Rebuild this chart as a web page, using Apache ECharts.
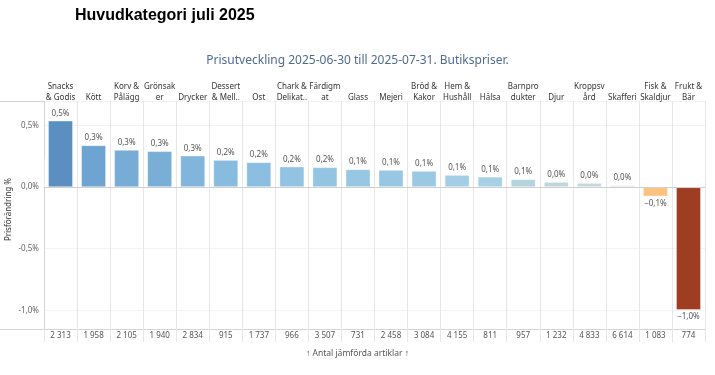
<!DOCTYPE html>
<html><head><meta charset="utf-8">
<script src="https://cdn.jsdelivr.net/npm/echarts@6/dist/echarts.min.js"></script>
<style>html,body{margin:0;padding:0;background:#fff}#c{width:715px;height:375px}</style>
</head><body><div id="c"></div>
<script>
const categories = ['Snacks\n& Godis','Kött','Korv &\nPålägg','Grönsak\ner','Drycker','Dessert\n& Mell..','Ost','Chark &\nDelikat..','Färdigm\nat','Glass','Mejeri','Bröd &\nKakor','Hem &\nHushåll','Hälsa','Barnpro\ndukter','Djur','Kroppsv\nård','Skafferi','Fisk &\nSkaldjur','Frukt &\nBär'];
const changePct = [0.541,0.341,0.303,0.293,0.257,0.222,0.203,0.168,0.163,0.146,0.141,0.133,0.100,0.086,0.065,0.043,0.035,0.016,-0.076,-0.998];
const articleCounts = [2313,1958,2105,1940,2834,915,1737,966,3507,731,2458,3084,4155,811,957,1232,4833,6614,1083,774];

const colorStops = [
  [-1.0,[158,61,34]],[-0.5,[217,100,42]],[-0.08,[255,193,122]],[0,[218,220,214]],
  [0.016,[212,220,214]],[0.04,[194,214,218]],[0.065,[180,211,223]],[0.09,[166,207,229]],
  [0.15,[150,198,227]],[0.22,[136,188,223]],[0.3,[120,173,214]],[0.34,[110,164,210]],[0.54,[90,143,192]]
];
function colorFor(v){
  if (v <= colorStops[0][0]) return 'rgb('+colorStops[0][1].join(',')+')';
  for (let i=1;i<colorStops.length;i++){
    if (v <= colorStops[i][0]){
      const a=colorStops[i-1], b=colorStops[i];
      const t=(v-a[0])/(b[0]-a[0]);
      const c=a[1].map((x,k)=>Math.round(x+(b[1][k]-x)*t));
      return 'rgb('+c.join(',')+')';
    }
  }
  return 'rgb('+colorStops[colorStops.length-1][1].join(',')+')';
}
function fmtPct(v, minus){
  const s = Math.abs(v).toFixed(1).replace('.',',') + '%';
  return (v < 0 ? minus : '') + s;
}
function fmtCount(n){ return String(n).replace(/\B(?=(\d{3})+(?!\d))/g,' '); }

const chart = echarts.init(document.getElementById('c'), null, {renderer:'canvas'});
const font = 'Noto Sans';
const gridLine = '#e6e6e6';
chart.setOption({
  animation:false,
  textStyle:{fontFamily:font},
  title:[
    {text:'Huvudkategori juli 2025', left:70, top:3, textStyle:{fontFamily:'Liberation Sans', fontWeight:'bold', fontSize:16, color:'#000'}},
    {text:'Prisutveckling 2025-06-30 till 2025-07-31. Butikspriser.', left:'center', top:50, textStyle:{fontFamily:font, fontWeight:'normal', fontSize:12, color:'#4f6b8f'}}
  ],
  grid:{left:44, right:10, top:101, bottom:46},
  xAxis:[
    {type:'category', position:'top', data:categories,
     axisLine:{show:true, lineStyle:{color:'#d4d4d4'}},
     axisTick:{show:true, interval:0, length:29, lineStyle:{color:gridLine}},
     axisLabel:{interval:0, fontSize:8, color:'#333', lineHeight:11, margin:-2, fontFamily:font},
     splitLine:{show:true, interval:0, lineStyle:{color:gridLine}}},
    {type:'category', position:'bottom', data:articleCounts.map(fmtCount),
     axisLine:{show:true, lineStyle:{color:'#d4d4d4'}},
     axisTick:{show:true, interval:0, length:13, lineStyle:{color:gridLine}},
     axisLabel:{interval:0, fontSize:8, color:'#555', margin:3, fontFamily:font},
     splitLine:{show:false}}
  ],
  yAxis:{type:'value', min:-1.152, max:0.70, splitNumber:4,
    axisLine:{show:true, lineStyle:{color:'#d4d4d4'}},
    axisTick:{show:false},
    axisLabel:{fontSize:8, color:'#666', margin:5, showMinLabel:false, showMaxLabel:false,
      formatter:v=>fmtPct(v,'-')},
    splitLine:{show:true, lineStyle:{color:'#f3f3f3'}}
  },
  graphic:[
    {type:'line', shape:{x1:0,y1:101.5,x2:44,y2:101.5}, style:{stroke:'#d4d4d4', lineWidth:1}, silent:true},
    {type:'line', shape:{x1:0,y1:329.5,x2:44,y2:329.5}, style:{stroke:'#d4d4d4', lineWidth:1}, silent:true},
    {type:'text', left:5, top:178, rotation:Math.PI/2, silent:true,
      style:{text:'Prisförändring %', fontSize:8, fill:'#333', fontFamily:font}},
    {type:'text', left:'center', top:349, silent:true,
      style:{text:'↑ Antal jämförda artiklar ↑', fontSize:8.5, fill:'#555', fontFamily:font}}
  ],
  series:[{
    type:'bar', xAxisIndex:0,
    barWidth:25,
    data:changePct.map(v=>({value:v,
      itemStyle:{color:colorFor(v)},
      label:{position: v<0 ? 'bottom':'top'}})),
    itemStyle:{borderColor:'rgba(255,255,255,0.35)', borderWidth:1},
    label:{show:true, fontSize:8, color:'#555', distance:3, fontFamily:font,
      formatter:p=>fmtPct(p.value,'−')},
    markLine:{silent:true, symbol:'none', label:{show:false},
      lineStyle:{color:'#d0d0d0', type:'solid', width:1},
      data:[{yAxis:0}]}
  }]
});
</script></body></html>
